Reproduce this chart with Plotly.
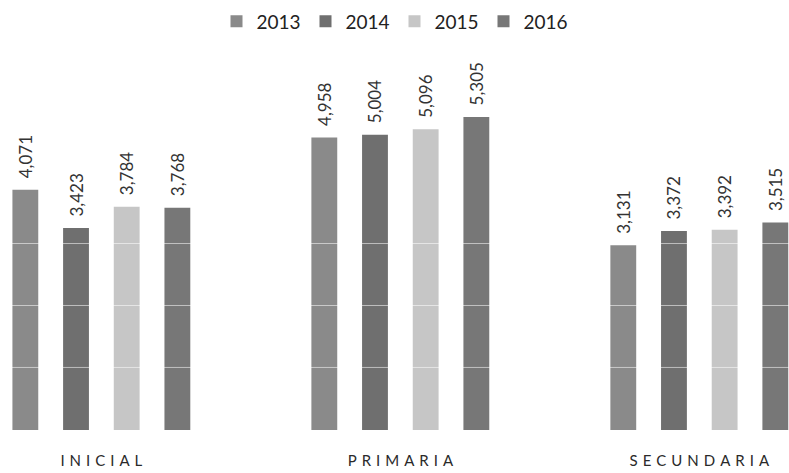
import plotly.graph_objects as go

categories = ["INICIAL", "PRIMARIA", "SECUNDARIA"]
years = ["2013", "2014", "2015", "2016"]
values = {
    "2013": [4071, 4958, 3131],
    "2014": [3423, 5004, 3372],
    "2015": [3784, 5096, 3392],
    "2016": [3768, 5305, 3515],
}
colors = {"2013": "#8a8a8a", "2014": "#6f6f6f", "2015": "#c6c6c6", "2016": "#777777"}
grid_levels = [1060, 2110, 3160]

# letter-spaced category labels, as in the scan
tick_labels = ["\u2004".join(c) for c in categories]

fig = go.Figure()
for yr in years:
    fig.add_trace(go.Bar(
        x=categories,
        y=values[yr],
        name=yr,
        marker=dict(color=colors[yr], line=dict(width=0)),
        texttemplate="\u2002%{y:,}",
        textposition="outside",
        textangle=-90,
        constraintext="none",
        textfont=dict(size=17, color="#333333"),
        cliponaxis=False,
    ))

for g in grid_levels:
    fig.add_shape(type="line", xref="paper", yref="y", x0=0, x1=1, y0=g, y1=g,
                  line=dict(color="rgba(255,255,255,0.55)", width=1), layer="above")

fig.update_layout(
    width=789,
    height=473,
    barmode="group",
    bargap=0.322,
    bargroupgap=0.49,
    plot_bgcolor="white",
    paper_bgcolor="white",
    font=dict(family="Lato", color="#2a2a2a"),
    margin=dict(l=0, r=0, t=60, b=43),
    showlegend=True,
    legend=dict(
        orientation="h",
        x=0.5, xanchor="center",
        y=1.156, yanchor="top",
        font=dict(size=19, color="#222222"),
        entrywidth=44,
        entrywidthmode="pixels",
        traceorder="normal",
    ),
    xaxis=dict(
        range=[-0.339, 2.30],
        tickmode="array",
        tickvals=categories,
        ticktext=tick_labels,
        tickfont=dict(size=15, color="#2a2a2a"),
        ticklabelstandoff=20,
        showgrid=False,
        showline=False,
        ticks="",
    ),
    yaxis=dict(range=[0, 6270], visible=False, showgrid=False),
)

fig.write_html(
    "out.html",
    config={"displayModeBar": False},
    post_script="document.body.style.margin='0';document.body.style.overflow='hidden';",
)
